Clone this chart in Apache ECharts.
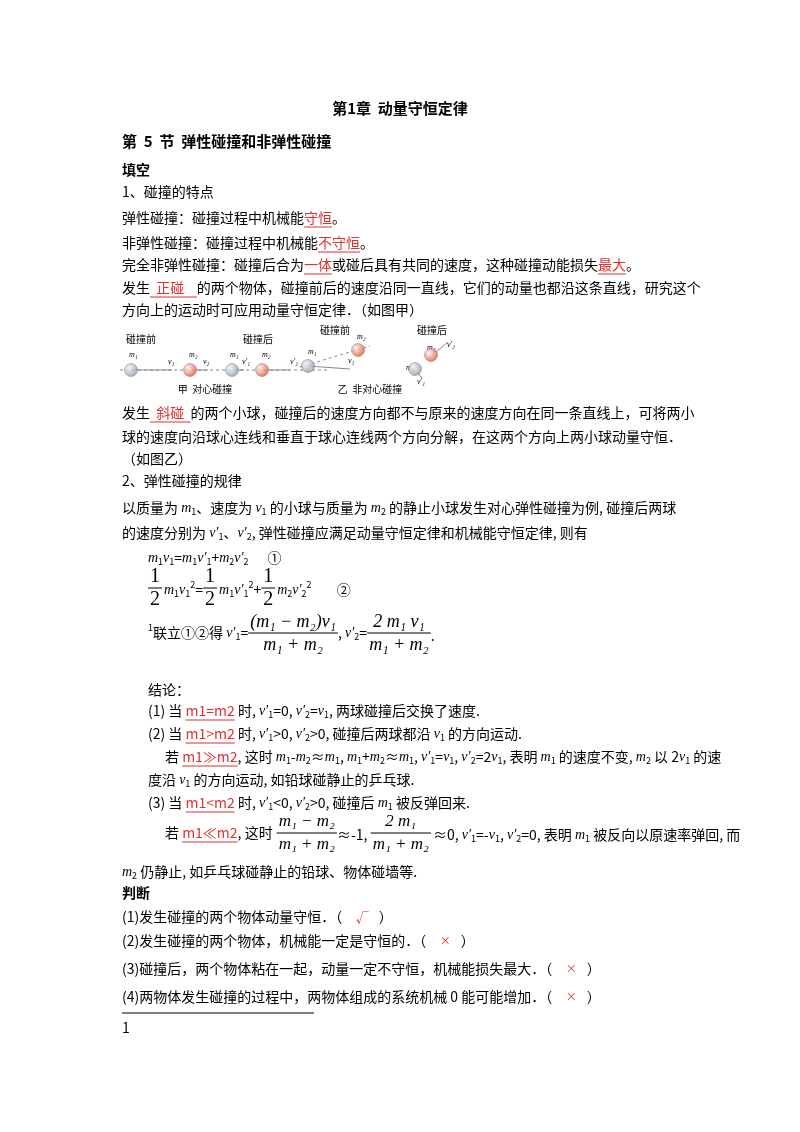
<!DOCTYPE html><html><head><meta charset="utf-8"><script src="https://cdn.jsdelivr.net/npm/echarts@6/dist/echarts.min.js"></script>
<style>html,body{margin:0;background:#fff}#c{width:800px;height:1132px}</style></head><body><div id="c"></div><script>
const grayBalls=[[131,370],[232,370],[308,366],[415,369]];
const redBalls=[[190,370],[262,370],[358,350],[431,355]];
const judgeMarks=['√','×','×','×'];
const F='"Noto Sans CJK SC","Noto Sans",sans-serif';
const g=[];
function T(x,y,t,o){o=o||{};g.push({type:'text',x:x,y:y,style:Object.assign({text:t,font:(o.b?'bold ':'')+(o.s||14)+'px '+F,fill:o.c||'#000',textVerticalAlign:'middle',textAlign:o.a||'left'},o.st||{})});}
function U(x1,x2,y,c){g.push({type:'line',shape:{x1:x1,y1:y,x2:x2,y2:y},style:{stroke:c||'#e03030',lineWidth:1}});}
const ctx=document.createElement('canvas').getContext('2d');
function RT(x,y,parts){let cx=x;parts.forEach(p=>{const fs=p.s||14;const font=(p.b?'bold ':'')+(p.it?'italic ':'')+fs+'px '+(p.it?'"Liberation Serif",serif':F);g.push({type:'text',x:cx,y:y+(p.dy||0),style:{text:p.t,font:font,fill:p.r?'#e03030':'#000',textVerticalAlign:'middle'}});ctx.font=font;const ww=ctx.measureText(p.t).width;if(p.r)U(cx,cx+ww,y+9);cx+=ww;});return cx;}
function P(s){const out=[];const re=/\[([^\]]+)\]|_([^_]+)_|\^([^\^]+)\^|\*([^*]+)\*|([^\[_\^*]+)/g;let m;while((m=re.exec(s))){if(m[1])out.push({t:m[1],r:1});else if(m[2])out.push({t:m[2],s:9,dy:4});else if(m[3])out.push({t:m[3],s:9,dy:-5});else if(m[4])out.push({t:m[4],it:1});else out.push({t:m[5]});}return out;}
function L(x,y,s){return RT(x,y,P(s));}
T(400,108,'第1章  动量守恒定律',{b:1,s:15,a:'center'});
T(122,141,'第  5  节  弹性碰撞和非弹性碰撞',{b:1,s:15});
T(122,170,'填空',{b:1});
L(122,192,'1、碰撞的特点');
L(122,218,'弹性碰撞：碰撞过程中机械能[守恒]。');
L(122,243,'非弹性碰撞：碰撞过程中机械能[不守恒]。');
L(122,265,'完全非弹性碰撞：碰撞后合为[一体]或碰后具有共同的速度，这种碰撞动能损失[最大]。');
L(122,288,'发生[  正碰    ]的两个物体，碰撞前后的速度沿同一直线，它们的动量也都沿这条直线，研究这个');
L(122,310,'方向上的运动时可应用动量守恒定律．（如图甲）');
[['碰撞前',141,339],['碰撞后',258,339],['碰撞前',335,330],['碰撞后',432,330],['甲  对心碰撞',205,389],['乙  非对心碰撞',370,389]].forEach(a=>T(a[1],a[2],a[0],{s:10,a:'center'}));
[['m₁',129,355],['m₂',189,355],['m₁',230,355],['m₂',262,355],['m₁',308,352],['m₂',357,337],['m₂',427,348],['m₁',406,368],['v₁',168,362],['v₂',203,362],['v′₁',242,362],['v′₂',290,362],['v₁',348,361],['v′₂',447,345],['v′₁',417,382]].forEach(a=>T(a[1],a[2],a[0],{s:8,st:{font:'italic 8px "Liberation Serif",serif'}}));
function AL(x1,y1,x2,y2,d){g.push({type:'line',shape:{x1:x1,y1:y1,x2:x2,y2:y2},style:{stroke:'#888',lineWidth:1,lineDash:d?[3,3]:null}});}
AL(120,370,232,370,1);AL(131,370,172,370);AL(196,370,208,370);AL(240,370,330,370,1);AL(234,370,244,370);AL(262,370,290,370);AL(300,367,370,346,1);AL(308,366,350,369);AL(436,352,448,342);AL(417,372,422,378);
L(122,413,'发生[  斜碰  ]的两个小球，碰撞后的速度方向都不与原来的速度方向在同一条直线上，可将两小');
L(122,437,'球的速度向沿球心连线和垂直于球心连线两个方向分解，在这两个方向上两小球动量守恒．');
L(122,459,'（如图乙）');
L(122,481,'2、弹性碰撞的规律');
L(122,508,'以质量为 *m*_1_、速度为 *v*_1_ 的小球与质量为 *m*_2_ 的静止小球发生对心弹性碰撞为例, 碰撞后两球');
L(122,533,'的速度分别为 *v′*_1_、*v′*_2_, 弹性碰撞应满足动量守恒定律和机械能守恒定律, 则有');
L(148,558,'*m*_1_*v*_1_=*m*_1_*v′*_1_+*m*_2_*v′*_2_      ①');
function FR(x,y,n,d,fs,it){fs=fs||16;const f=(it?'italic ':'')+fs+'px "Liberation Serif",serif';ctx.font=f;const w=Math.max(ctx.measureText(n).width,ctx.measureText(d).width)+4;g.push({type:'text',x:x+w/2,y:y-11,style:{text:n,font:f,textAlign:'center',textVerticalAlign:'middle'}});g.push({type:'text',x:x+w/2,y:y+12,style:{text:d,font:f,textAlign:'center',textVerticalAlign:'middle'}});g.push({type:'line',shape:{x1:x,y1:y,x2:x+w,y2:y},style:{stroke:'#000',lineWidth:1}});return x+w;}
let x=FR(148,588,'1','2',20);x=L(x+2,590,'*m*_1_*v*_1_^2^=');x=FR(x,588,'1','2',20);x=L(x+2,590,'*m*_1_*v′*_1_^2^+');x=FR(x,588,'1','2',20);x=L(x+2,590,'*m*_2_*v′*_2_^2^        ②');
x=L(148,633,'^1^联立①②得 *v′*_1_=');x=FR(x,633,'(m₁ − m₂)v₁','m₁ + m₂',18,1);x=L(x,633,', *v′*_2_=');x=FR(x,633,'2 m₁ v₁','m₁ + m₂',18,1);L(x,636,'.');
L(148,690,'结论：');
L(148,711,'(1) 当 [m1=m2] 时, *v′*_1_=0, *v′*_2_=*v*_1_, 两球碰撞后交换了速度.');
L(148,734,'(2) 当 [m1>m2] 时, *v′*_1_>0, *v′*_2_>0, 碰撞后两球都沿 *v*_1_ 的方向运动.');
L(165,757,'若 [m1≫m2], 这时 *m*_1_-*m*_2_≈*m*_1_, *m*_1_+*m*_2_≈*m*_1_, *v′*_1_=*v*_1_, *v′*_2_=2*v*_1_, 表明 *m*_1_ 的速度不变, *m*_2_ 以 2*v*_1_ 的速');
L(148,780,'度沿 *v*_1_ 的方向运动, 如铅球碰静止的乒乓球.');
L(148,803,'(3) 当 [m1<m2] 时, *v′*_1_<0, *v′*_2_>0, 碰撞后 *m*_1_ 被反弹回来.');
x=L(165,833,'若 [m1≪m2], 这时');x=FR(x+4,833,'m₁ − m₂','m₁ + m₂',17,1);x=L(x,835,'≈-1, ');x=FR(x,833,'2 m₁','m₁ + m₂',17,1);L(x+2,835,'≈0, *v′*_1_=-*v*_1_, *v′*_2_=0, 表明 *m*_1_ 被反向以原速率弹回, 而');
L(122,872,'*m*_2_ 仍静止, 如乒乓球碰静止的铅球、物体碰墙等.');
T(122,893,'判断',{b:1});
const J=['(1)发生碰撞的两个物体动量守恒．（   ','(2)发生碰撞的两个物体，机械能一定是守恒的．（   ','(3)碰撞后，两个物体粘在一起，动量一定不守恒，机械能损失最大．（   ','(4)两物体发生碰撞的过程中，两物体组成的系统机械 0 能可能增加．（   '];
const JY=[917,941,969,997];
J.forEach((s,i)=>{let x=RT(122,JY[i],[{t:s}]);x=RT(x+4,JY[i],[{t:judgeMarks[i],s:i?11:13}]);g[g.length-1].style.fill='#e03030';RT(x+10,JY[i],[{t:'）'}]);});
U(122,314,1013,'#000');
T(122,1028,'1',{});
const mk=(d,c)=>({type:'scatter',data:d,symbolSize:13,itemStyle:{color:{type:'radial',x:0.35,y:0.35,r:0.75,colorStops:[{offset:0,color:'#f4f4f4'},{offset:1,color:c}]},borderColor:'#666',borderWidth:0.5},silent:true,z:5});
const chart=echarts.init(document.getElementById('c'));
chart.setOption({animation:false,grid:{left:0,right:0,top:0,bottom:0},xAxis:{type:'value',min:0,max:800,show:false},yAxis:{type:'value',min:0,max:1132,inverse:true,show:false},series:[mk(grayBalls,'#7f91a6'),mk(redBalls,'#e8401a')],graphic:g});
</script></body></html>
